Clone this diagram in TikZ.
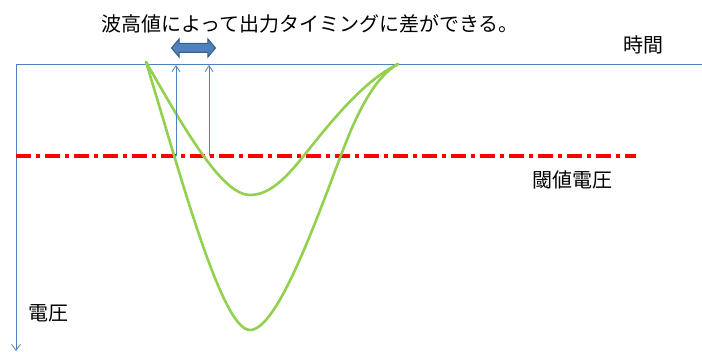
\documentclass[tikz,border=0pt]{standalone}
\usepackage{fontspec}
\setmainfont{Noto Sans CJK JP}
\usepackage{xcolor}
\usetikzlibrary{arrows.meta, positioning, calc, shapes.arrows}
\definecolor{axisBlue}{RGB}{79, 129, 189}
\definecolor{arrowDark}{RGB}{56, 93, 138}
\definecolor{pulseGreen}{RGB}{146, 208, 80}
\definecolor{thresholdRed}{RGB}{255, 0, 0}

\begin{document}
\begin{tikzpicture}[
    x=1pt, y=-1pt,
    axis/.style={
        draw=axisBlue,
        line width=0.8pt
    },
    marker/.style={
        -{Straight Barb[length=6pt, width=8pt]},
        draw=axisBlue,
        line width=0.8pt
    },
    pulse/.style={
        draw=pulseGreen,
        line width=2.6pt,
        line cap=round,
        line join=round
    },
    threshold/.style={
        draw=thresholdRed,
        line width=3.6pt,
        dash pattern=on 15pt off 5pt on 4pt off 5pt
    },
    label/.style={
        font=\fontsize{20}{24}\selectfont,
        text=black,
        inner sep=0pt
    },
    gaparrow/.style={
        double arrow,
        double arrow head extend=4.5pt,
        double arrow tip angle=100,
        minimum height=44pt,
        inner xsep=0pt,
        inner ysep=4pt,
        text height=0pt,
        text depth=0pt,
        fill=axisBlue,
        draw=arrowDark,
        line width=1pt
    }
]
\useasboundingbox (0,0) rectangle (702,352);

% Axes
\coordinate (origin) at (16,64);
\coordinate (timeEnd) at (702,64);
\coordinate (voltEnd) at (16,351);
\draw[axis] (origin) -- (timeEnd);
\draw[axis, -{Straight Barb[length=6pt, width=9pt]}] (origin) -- (voltEnd);

% Threshold voltage
\coordinate (thrStart) at (16,156);
\coordinate (thrEnd) at (636,156);
\draw[threshold] (thrStart) -- (thrEnd);

% Pulses
\coordinate (pulseStart) at (146,62);
\coordinate (pulseEnd) at (398,64);
\draw[pulse] (pulseStart) .. controls (182,180) and (222,330) .. (250,330)
    .. controls (278,330) and (318,215) .. (343,150)
    .. controls (360,105) and (378,75) .. (pulseEnd);
\draw[pulse] (pulseStart) .. controls (185,130) and (222,195) .. (250,195)
    .. controls (276,195) and (296,165) .. (318,138)
    .. controls (345,105) and (370,78) .. (pulseEnd);

% Crossing times
\coordinate (crossBig) at (176,156);
\coordinate (crossSmall) at (209,156);
\coordinate (markBig) at (176,65);
\coordinate (markSmall) at (209,65);
\draw[marker] (crossBig) -- (markBig);
\draw[marker] (crossSmall) -- (markSmall);
\node[gaparrow] (delta) at (193.5,48) {};

% Labels
\node[label] (title) at (310,24) {波高値によって出力タイミングに差ができる。};
\node[label] (timeLbl) at (643,45) {時間};
\node[label] (thrLbl) at (572,180) {閾値電圧};
\node[label] (voltLbl) at (48,313) {電圧};

\end{tikzpicture}
\end{document}
